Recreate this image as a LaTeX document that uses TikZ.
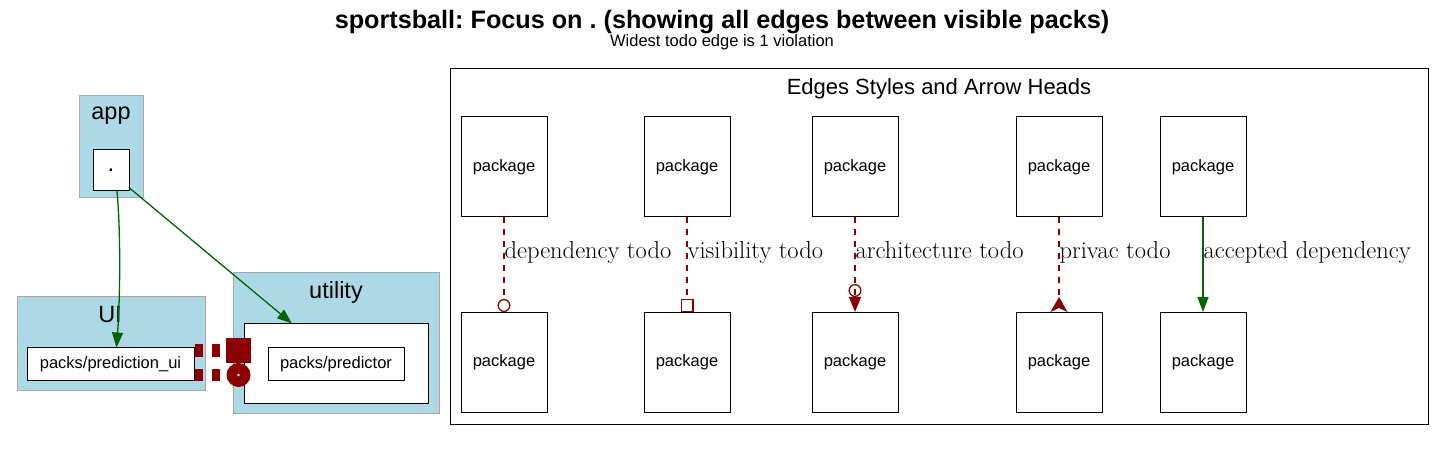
\documentclass[tikz,border=0pt]{standalone}
\usepackage{fontspec}
\newfontfamily\sansfont{Liberation Sans}
\usepackage{tikz}
\usetikzlibrary{arrows.meta}
\usetikzlibrary{calc,positioning}

\definecolor{todored}{HTML}{8B0000}
\definecolor{okgreen}{HTML}{006400}
\definecolor{clusterblue}{HTML}{ADD8E6}
\definecolor{clustergray}{HTML}{A9A9A9}

\begin{document}
\frenchspacing
\begin{tikzpicture}[x=1pt, y=-1pt,
    cluster/.style={draw=clustergray, fill=clusterblue, line width=1pt, inner sep=0pt},
    clustername/.style={anchor=base, inner sep=0pt, font=\sansfont\fontsize{23.5}{26}\selectfont},
    pack/.style={draw, fill=white, line width=1pt, inner sep=0pt, font=\sansfont\fontsize{16.5}{19}\selectfont},
    legendpack/.style={pack, minimum width=86pt, minimum height=100pt},
    okedge/.style={draw=okgreen, line width=1.3pt, -{Triangle[length=15pt,width=11pt]}},
    todoedge/.style={draw=todored, line width=1.3pt, dash pattern=on 6pt off 6pt},
    heavytodo/.style={draw=todored, line width=12pt, dash pattern=on 8pt off 9pt},
    edgelabel/.style={anchor=base west, inner sep=0pt, pos=.43, font=\fontsize{24.5}{28}\selectfont}]

    \useasboundingbox (0,0) rectangle (1446,470);

    \node[anchor=base, inner sep=0pt, font=\sansfont\bfseries\fontsize{25.2}{29}\selectfont] (title) at (722,28.3) {sportsball: Focus on . (showing all edges between visible packs)};
    \node[anchor=base, inner sep=0pt, font=\sansfont\fontsize{16.5}{19}\selectfont] (subtitle) at (722,46.7) {Widest todo edge is 1 violation};

    % packs
    \node[cluster, minimum width=64pt, minimum height=102pt] (app) at (111,147) {};
    \node[clustername] (appname) at (111,119.3) {app};
    \node[pack, minimum width=36pt, minimum height=41pt, font=\sansfont\fontsize{24}{26}\selectfont] (appdot) at (111,170) {.};

    \node[cluster, minimum width=188pt, minimum height=93pt] (ui) at (111,343.5) {};
    \node[clustername] (uiname) at (110,322.3) {UI};
    \node[pack, minimum width=167pt, minimum height=32pt] (predui) at (110.5,364) {packs/prediction\_ui};

    \node[cluster, minimum width=206pt, minimum height=140pt] (utility) at (336,343) {};
    \node[clustername] (utilityname) at (336,298.3) {utility};
    \node[draw, fill=white, line width=1pt, inner sep=0pt, minimum width=184pt, minimum height=79pt] (predbox) at (336,363.5) {};
    \node[pack, minimum width=136pt, minimum height=32pt] (predictor) at (336,364) {packs/predictor};

    \draw[okedge] ($(appdot.south)+(6,0)$) .. controls (121,235) and (120,300) .. ($(predui.north)+(6,0)$);
    \draw[okedge] ($(appdot.south east)+(0,-3)$) -- ($(predbox.north)+(-44,0)$);

    \draw[heavytodo, -{Square[length=25pt,width=25pt,line width=0pt]}] ($(predui.east)+(0,-13.5)$) -- ($(predbox.west)+(7,-13)$);
    \draw[heavytodo, -{Circle[length=24pt,width=24pt,line width=0pt]}] ($(predui.east)+(0,11)$) -- ($(predbox.west)+(7,11.5)$);
    \fill[white] ($(predbox.west)+(-5,11.5)$) circle (1.3);

    % legend
    \node[draw, line width=1pt, inner sep=0pt, minimum width=978pt, minimum height=355pt] (legend) at (939,246.5) {};
    \node[anchor=base, inner sep=0pt, font=\sansfont\fontsize{22}{26}\selectfont] (legendname) at (939,95) {Edges Styles and Arrow Heads};

    \foreach \i/\x in {1/504, 2/687, 3/855, 4/1059, 5/1203}{
        \node[legendpack] (src\i) at (\x,167) {package};
        \node[legendpack] (dst\i) at (\x,362.5) {package};
    }

    \draw[todoedge, -{Circle[open,length=13pt,width=13pt]}] (src1) -- node[edgelabel]{dependency todo} (dst1);
    \draw[todoedge, -{Square[open,length=13pt,width=13pt]}] (src2) -- node[edgelabel]{visibility todo} (dst2);
    \draw[todoedge, -{Circle[open,length=13pt,width=13pt] Triangle[length=15pt,width=12pt]}] (src3) -- node[edgelabel]{architecture todo} (dst3);
    \draw[todoedge, -{Stealth[reversed,length=15pt,width=17pt,inset=4pt]}] (src4) -- node[edgelabel]{privac todo} (dst4);
    \draw[okedge] (src5) -- node[edgelabel]{accepted dependency} (dst5);

\end{tikzpicture}
\end{document}
